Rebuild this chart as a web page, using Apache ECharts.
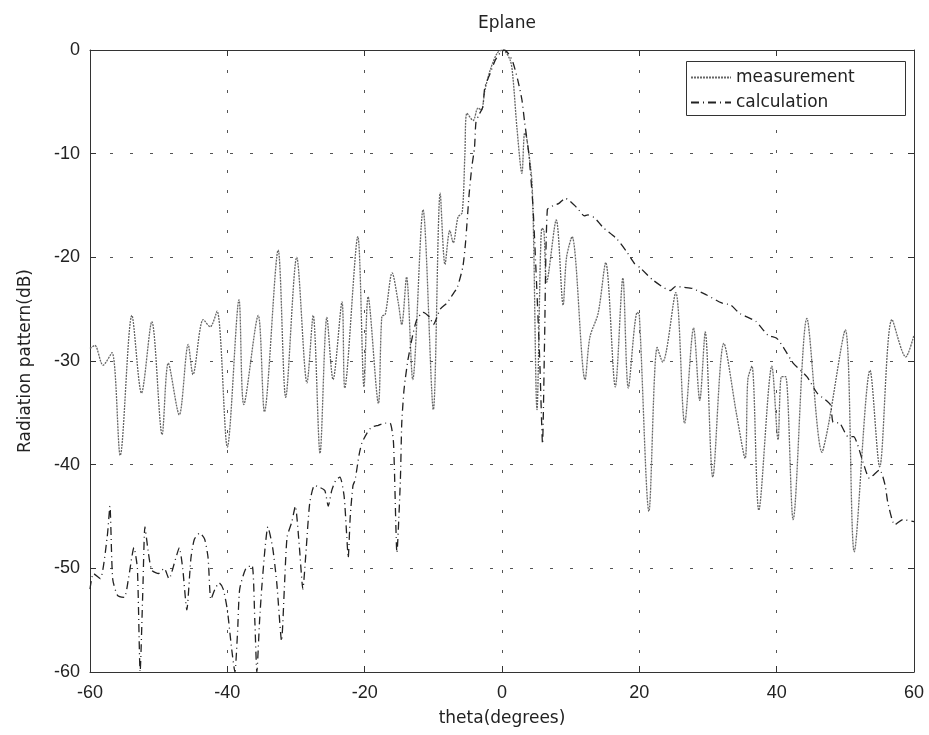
<!DOCTYPE html>
<html>
<head>
<meta charset="utf-8">
<script src="https://cdn.jsdelivr.net/npm/echarts@6/dist/echarts.min.js"></script>
<style>html,body{margin:0;padding:0;background:#fff;}#c{width:929px;height:735px;}</style>
</head>
<body>
<div id="c"></div>
<script>
// ---- data ----
const titleText = 'Eplane';
const seriesNames = ['measurement', 'calculation'];
const xTickLabels = ['-60', '-40', '-20', '0', '20', '40', '60'];
const yTickLabels = ['-60', '-50', '-40', '-30', '-20', '-10', '0'];

const thetaMeas = [-60, -59.3, -58.1, -56.8, -55.6, -53.9, -52.5, -51.0, -49.5, -48.6, -47.0, -45.7, -45.0, -43.5, -42.5, -41.5, -40.0, -38.3, -37.6, -35.5, -34.6, -32.6, -31.5, -29.9, -28.4, -27.5, -26.5, -25.5, -24.6, -23.3, -22.9, -21.0, -20.1, -19.5, -18.0, -17.5, -17.0, -16.0, -15.1, -14.6, -13.9, -13.0, -11.5, -10.0, -9.0, -8.3, -7.6, -7.1, -6.4, -5.8, -5.4, -5.1, -4.2, -3.5, -3.0, -2.5, -1.7, -0.7, 0.1, 1.2, 1.6, 2.2, 2.9, 3.3, 3.6, 4.4, 5.1, 5.8, 6.1, 6.5, 7.9, 8.9, 9.4, 10.2, 12.1, 12.8, 14.0, 15.1, 16.5, 17.6, 18.4, 19.7, 20.0, 21.4, 22.6, 23.4, 25.3, 26.6, 27.9, 28.8, 29.6, 30.7, 32.3, 34.2, 35.4, 35.8, 36.4, 37.4, 39.3, 40.2, 40.7, 41.3, 42.4, 44.4, 46.6, 47.5, 50.0, 51.3, 53.6, 55.0, 56.8, 58.8, 60];
const dbMeas = [-28.8, -28.5, -30.4, -29.2, -39.1, -25.6, -33.1, -26.2, -37.1, -30.2, -35.2, -28.4, -31.3, -26.0, -26.7, -25.2, -38.3, -24.1, -34.2, -25.6, -34.9, -19.3, -33.5, -20.0, -32.1, -25.6, -38.9, -25.8, -31.8, -24.3, -32.6, -18.0, -32.5, -23.8, -34.1, -25.7, -25.5, -21.5, -24.4, -26.5, -21.9, -31.8, -15.4, -34.7, -13.8, -20.7, -17.4, -18.6, -16.1, -15.7, -10.0, -6.1, -6.8, -5.6, -5.8, -3.9, -1.9, -0.3, 0, -1.0, -2.7, -7.7, -11.9, -8.0, -8.5, -13.2, -34.7, -17.2, -17.4, -22.4, -16.4, -24.6, -20.0, -18.0, -31.8, -27.7, -25.4, -20.5, -32.5, -22.0, -32.6, -25.3, -25.6, -44.5, -28.7, -30.1, -23.4, -36.0, -26.8, -33.8, -27.2, -41.2, -28.3, -35.3, -39.4, -31.8, -30.5, -44.4, -30.5, -37.6, -31.5, -31.5, -45.3, -25.9, -38.8, -36.3, -27.0, -48.4, -30.9, -40.2, -26.0, -29.6, -27.5];

const thetaCalc = [-60, -59.5, -58.5, -57.5, -57.1, -56.7, -56, -55, -54.4, -53.6, -53.1, -52.7, -52.3, -52, -51.5, -51, -50, -49.2, -48.5, -47.5, -47, -46.5, -45.9, -45.3, -44.8, -44, -43.3, -42.8, -42.4, -41.8, -41.2, -40.6, -40, -39.4, -38.9, -38.5, -38.2, -37.3, -36.4, -36, -35.7, -35.3, -35, -34.5, -34.1, -33.4, -32.8, -32.1, -31.7, -31.3, -30.6, -30.1, -29.5, -29, -28.5, -28, -27.3, -26.5, -25.8, -25.3, -24.8, -24.2, -23.6, -23, -22.6, -22.4, -22.1, -21.7, -21.4, -20.8, -20.4, -19.7, -19, -18, -17, -16.3, -15.8, -15.3, -14.8, -14.6, -14.3, -14.1, -13.7, -13, -12.4, -11.5, -10.5, -10, -9, -8, -7, -6.5, -5.7, -5.3, -4.8, -4.4, -4, -3.8, -3.4, -2.8, -2.5, -1.7, -1, -0.3, 0.3, 1, 1.6, 2.3, 2.9, 3.3, 3.9, 4.5, 5, 5.5, 5.9, 6.2, 6.6, 7.5, 8.3, 9.2, 10.9, 12, 12.5, 13.5, 14.7, 16.7, 18.2, 19.3, 20.1, 22, 24.5, 25.3, 26.5, 27.7, 29.7, 32, 33.3, 34.6, 37, 38.7, 40, 41, 42.4, 44.4, 45.9, 47.8, 48.2, 49.2, 50.4, 51.2, 52.6, 53.5, 55, 55.8, 56.2, 57.2, 58.4, 60];
const dbCalc = [-52, -50.5, -51, -47, -44, -51, -52.6, -52.8, -51, -48, -50, -60, -52, -46, -48.5, -50.2, -50.5, -50, -51, -49, -48, -50, -54, -49, -47.2, -46.6, -47.2, -49, -53, -52, -51.4, -52, -54, -57.6, -60, -56, -52, -50, -49.7, -55, -60, -55, -52, -48, -46, -48, -51.4, -57, -52, -47, -45.5, -44, -48, -52, -48, -43.7, -42, -42.2, -42.5, -44, -42.5, -41.5, -41.2, -43, -47, -49, -45, -42, -41.5, -39, -37.9, -37, -36.4, -36.2, -36, -36, -37.9, -48.5, -41.5, -36, -33, -31.8, -29.9, -27.5, -26, -25.3, -25.8, -26.5, -25, -24.4, -23.4, -22.9, -20.9, -18.5, -14, -11.3, -9.4, -7, -6.3, -5.5, -3.6, -2.2, -1, -0.3, 0, -0.4, -1.2, -2.9, -4.8, -7, -10, -15, -22, -30, -38, -28, -15.4, -15, -14.8, -14.3, -15.2, -16, -15.9, -16.2, -17.1, -18.2, -19.5, -20.6, -21, -22.2, -23.2, -22.8, -22.9, -23, -23.6, -24.4, -24.6, -25.4, -26.2, -27.5, -27.8, -28.7, -30.2, -31.5, -33.1, -34.2, -35.9, -36, -37.3, -37.3, -39.8, -41.3, -40.5, -42, -43.7, -45.8, -45.3, -45.5];

const measData = thetaMeas.map((t, i) => [t, dbMeas[i]]);
const calcData = thetaCalc.map((t, i) => [t, dbCalc[i]]);

const chart = echarts.init(document.getElementById('c'), null, {renderer: 'canvas'});
const labelFont = 'Liberation Sans, Arial, sans-serif';
const nameFont = 'DejaVu Sans, sans-serif';
const gridLine = {show: true, lineStyle: {color: '#555', width: 1, type: [3, 17]}};
const measColor = '#666';
const calcColor = '#222';

chart.setOption({
  backgroundColor: '#fff',
  animation: false,
  title: {
    text: titleText, left: 502, top: 10, textAlign: 'center',
    textStyle: {fontFamily: nameFont, fontSize: 17, fontWeight: 'normal', color: '#222'}
  },
  grid: {left: 90, right: 15, top: 50, bottom: 63, containLabel: false},
  legend: {
    data: seriesNames.map(n => ({name: n, itemStyle: {opacity: 0}})),
    orient: 'vertical', left: 690, top: 69, padding: 0,
    itemWidth: 40, itemHeight: 14, itemGap: 8,
    itemStyle: {opacity: 0},
    textStyle: {fontFamily: nameFont, fontSize: 17, color: '#222'}
  },
  graphic: [{
    type: 'rect', z: 1, left: 686, top: 61,
    shape: {width: 219, height: 54},
    style: {fill: '#fff', stroke: '#333', lineWidth: 1}
  }],
  xAxis: [{
    type: 'value', min: -60, max: 60, interval: 20,
    name: 'theta(degrees)', nameLocation: 'middle', nameGap: 38,
    nameTextStyle: {fontFamily: nameFont, fontSize: 17, color: '#222'},
    axisLine: {show: true, onZero: false, lineStyle: {color: '#333', width: 1}},
    axisTick: {show: true, inside: true, length: 6, lineStyle: {color: '#333'}},
    axisLabel: {fontFamily: labelFont, fontSize: 18, color: '#222', margin: 12,
      formatter: v => xTickLabels[Math.round((v + 60) / 20)]},
    splitLine: gridLine
  }, {
    type: 'value', min: -60, max: 60, interval: 20, position: 'top',
    axisLine: {show: true, onZero: false, lineStyle: {color: '#333', width: 1}},
    axisTick: {show: true, inside: true, length: 6, lineStyle: {color: '#333'}},
    axisLabel: {show: false}, splitLine: {show: false}
  }],
  yAxis: [{
    type: 'value', min: -60, max: 0, interval: 10,
    name: 'Radiation pattern(dB)', nameLocation: 'middle', nameGap: 56,
    nameTextStyle: {fontFamily: nameFont, fontSize: 17, color: '#222'},
    axisLine: {show: true, onZero: false, lineStyle: {color: '#333', width: 1}},
    axisTick: {show: true, inside: true, length: 6, lineStyle: {color: '#333'}},
    axisLabel: {fontFamily: labelFont, fontSize: 18, color: '#222', margin: 10,
      formatter: v => yTickLabels[Math.round((v + 60) / 10)]},
    splitLine: gridLine
  }, {
    type: 'value', min: -60, max: 0, interval: 10, position: 'right',
    axisLine: {show: true, onZero: false, lineStyle: {color: '#333', width: 1}},
    axisTick: {show: true, inside: true, length: 6, lineStyle: {color: '#333'}},
    axisLabel: {show: false}, splitLine: {show: false}
  }],
  series: [{
    name: seriesNames[0], type: 'line', data: measData, xAxisIndex: 0, yAxisIndex: 0,
    symbol: 'none', smooth: 0.3, clip: true, z: 3, color: measColor,
    itemStyle: {color: measColor},
    lineStyle: {color: measColor, width: 1.3, type: [2, 1]}
  }, {
    name: seriesNames[1], type: 'line', data: calcData, xAxisIndex: 0, yAxisIndex: 0,
    symbol: 'none', smooth: 0.2, clip: true, z: 4, color: calcColor,
    itemStyle: {color: calcColor},
    lineStyle: {color: calcColor, width: 1.3, type: [8, 4, 1, 4]}
  }]
});
</script>
</body>
</html>
